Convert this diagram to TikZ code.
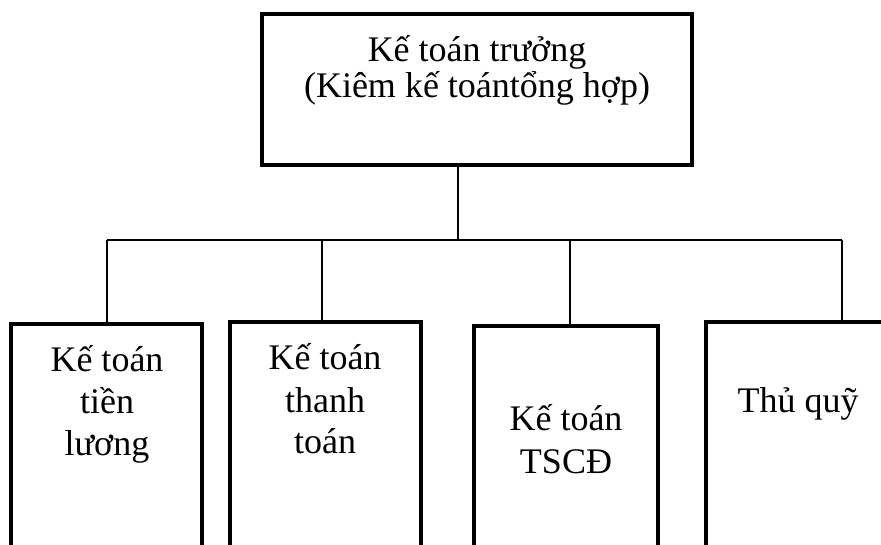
\documentclass[tikz,border=0pt]{standalone}
\usepackage{fontspec}
\setmainfont{Liberation Serif}
\begin{document}
\begin{tikzpicture}[x=1pt,y=-1pt,
  box/.style={draw=black, line width=4pt, fill=none, inner sep=0pt},
  conn/.style={draw=black, line width=1.3pt},
  txt/.style={anchor=base, inner sep=0pt, font=\fontsize{36}{42}\selectfont}]
\useasboundingbox (0,0) rectangle (881,545);
\clip (0,0) rectangle (881,545);
% top box
\node[box, minimum width=430pt, minimum height=151pt] (top) at (477,89.5) {};
\node[txt] (t1) at (477,62) {Kế toán trưởng};
\node[txt] (t2) at (477,98) {(Kiêm kế toántổng hợp)};
% bottom boxes (cut by the lower edge)
\node[box, minimum width=191pt, minimum height=300pt] (b1) at (106.5,474) {};
\node[box, minimum width=191pt, minimum height=300pt] (b2) at (325.5,472) {};
\node[box, minimum width=184pt, minimum height=300pt] (b3) at (566,476) {};
\node[box, minimum width=186pt, minimum height=300pt] (b4) at (799,472) {};
% texts
\node[txt] (a1) at (107,371) {Kế toán};
\node[txt] (a2) at (107,413) {tiền};
\node[txt] (a3) at (107,455) {lương};
\node[txt] (c1) at (325,370) {Kế toán};
\node[txt] (c2) at (325,412) {thanh};
\node[txt] (c3) at (325,453) {toán};
\node[txt] (d1) at (566,430) {Kế toán};
\node[txt] (d2) at (566,473) {TSCĐ};
\node[txt] (e1) at (798,412) {Thủ quỹ};
% connectors
\coordinate (j) at (458,240);
\coordinate (h1) at (107,240);
\coordinate (h2) at (322,240);
\coordinate (h3) at (570,240);
\coordinate (h4) at (842,240);
\draw[conn] (top.south -| j) -- (j);
\draw[conn] (h1) -- (h4);
\draw[conn] (h1) -- (h1 |- b1.north);
\draw[conn] (h2) -- (h2 |- b2.north);
\draw[conn] (h3) -- (h3 |- b3.north);
\draw[conn] (h4) -- (h4 |- b4.north);
\end{tikzpicture}
\end{document}
